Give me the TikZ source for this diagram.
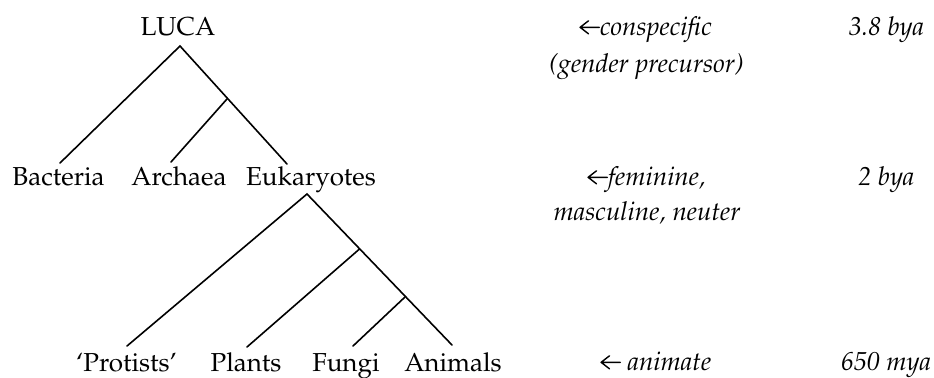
\documentclass[tikz,border=0pt]{standalone}
\usepackage[T1]{fontenc}
\usepackage{mathpazo}
\newcommand{\myarr}{\tikz[x=1pt,y=1pt,baseline=0pt]\draw[line width=0.7pt,line cap=round,line join=round] (10,3.85)--(0.4,3.85) (4.6,7.1)--(0.4,3.85)--(4.6,0.6);}
\begin{document}
\begin{tikzpicture}[x=0.5pt,y=-0.5pt,
  lbl/.style={anchor=base,inner sep=0pt,font=\fontsize{13}{16}\selectfont},
  note/.style={lbl,font=\fontsize{13}{16}\selectfont\itshape},
  branch/.style={line width=0.8pt,line cap=round}]
\useasboundingbox (0,0) rectangle (934,377);
% tree labels
\node[lbl] (luca) at (178,35) {LUCA};
\node[lbl] (bact) at (58.5,185) {Bacteria};
\node[lbl] (arch) at (179,185) {Archaea};
\node[lbl] (euk)  at (311,185) {Eukaryotes};
\node[lbl] (prot) at (126.5,371) {`Protists'};
\node[lbl] (plan) at (246,371) {Plants};
\node[lbl] (fung) at (346,371) {Fungi};
\node[lbl] (anim) at (453,371) {Animals};
% branch points
\coordinate (lucaTop) at (180,46);
\coordinate (aeJ)     at (227,99);
\coordinate (bactEnd) at (60,163);
\coordinate (archEnd) at (171,162);
\coordinate (eukEnd)  at (287,164);
\coordinate (eukTop)  at (307,194);
\coordinate (pfaJ)    at (359.5,249);
\coordinate (faJ)     at (405,297);
\coordinate (protEnd) at (127,346);
\coordinate (planEnd) at (247,347);
\coordinate (fungEnd) at (353,346);
\coordinate (animEnd) at (452,345);
% branches
\draw[branch] (bactEnd) -- (lucaTop) -- (eukEnd);
\draw[branch] (aeJ) -- (archEnd);
\draw[branch] (protEnd) -- (eukTop) -- (animEnd);
\draw[branch] (pfaJ) -- (planEnd);
\draw[branch] (faJ) -- (fungEnd);
% notes
\node[note,anchor=base west] (n1a) at (579,35) {\myarr conspecific};
\node[note] (n1b) at (646.5,72) {(gender precursor)};
\node[note] (t1)  at (886.5,35) {3.8 bya};
\node[note,anchor=base west] (n2a) at (587,185) {\myarr feminine,};
\node[note] (n2b) at (647,220) {masculine, neuter};
\node[note] (t2)  at (886.5,185) {2 bya};
\node[note,anchor=base west] (n3)  at (600,370) {\myarr\ animate};
\node[note] (t3)  at (886,370) {650 mya};
\end{tikzpicture}
\end{document}
